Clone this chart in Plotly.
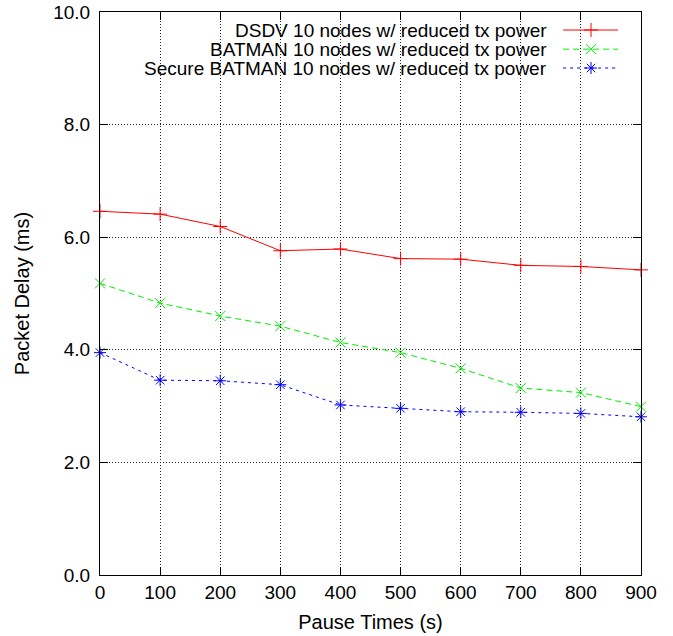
import plotly.graph_objects as go

pause_times = [0, 100, 200, 300, 400, 500, 600, 700, 800, 900]
dsdv = [6.46, 6.41, 6.19, 5.76, 5.79, 5.62, 5.61, 5.50, 5.48, 5.42]
batman = [5.18, 4.83, 4.60, 4.42, 4.13, 3.95, 3.67, 3.32, 3.24, 2.99]
secure_batman = [3.95, 3.46, 3.45, 3.38, 3.02, 2.96, 2.90, 2.89, 2.87, 2.81]
series_names = [
    "DSDV 10 nodes w/ reduced tx power",
    "BATMAN 10 nodes w/ reduced tx power",
    "Secure BATMAN 10 nodes w/ reduced tx power",
]
y_ticks = [0, 2, 4, 6, 8, 10]
x_ticks = pause_times

FONT = "Liberation Sans, Arial, Helvetica, sans-serif"
FS = 19
colors = ["#ff0000", "#00ee00", "#0000ff"]
dashes = ["solid", "6px,4px", "3px,4px"]
symbols = ["cross-thin", "x-thin", "asterisk"]
data = [dsdv, batman, secure_batman]

fig = go.Figure()
for vals, c, d, s, n in zip(data, colors, dashes, symbols, series_names):
    fig.add_trace(go.Scatter(
        x=pause_times, y=vals, mode="lines+markers", name=n,
        line=dict(color=c, width=1, dash=d),
        marker=dict(symbol=s, size=10, color=c, line=dict(color=c, width=1)),
        showlegend=False, cliponaxis=False,
    ))

# custom gnuplot-style key (text right, sample on the right)
row_y = [0.968, 0.934, 0.9005]
text_x = 0.830
samp_x0, samp_x1, samp_xm = 0.856, 0.9575, 0.9076
for i, (c, d, s, n) in enumerate(zip(colors, dashes, symbols, series_names)):
    fig.add_annotation(xref="paper", yref="paper", x=text_x, y=row_y[i],
                       text=n, showarrow=False, xanchor="right", yanchor="middle",
                       font=dict(family=FONT, size=FS, color="black"))
    fig.add_trace(go.Scatter(
        x=[samp_x0, samp_xm, samp_x1], y=[row_y[i]] * 3, xaxis="x2", yaxis="y2",
        mode="lines", line=dict(color=c, width=1, dash=d),
        showlegend=False, hoverinfo="skip", cliponaxis=False))
    fig.add_trace(go.Scatter(
        x=[samp_xm], y=[row_y[i]], xaxis="x2", yaxis="y2", mode="markers",
        marker=dict(symbol=s, size=10, color=c, line=dict(color=c, width=1)),
        showlegend=False, hoverinfo="skip", cliponaxis=False))

# opaque key background covering grid
fig.add_shape(type="rect", xref="paper", yref="paper", x0=0, x1=1, y0=0.885, y1=1,
              fillcolor="white", line=dict(width=0), layer="below")

axis_common = dict(
    showline=True, linecolor="black", linewidth=1, mirror="allticks",
    ticks="inside", ticklen=8, tickcolor="black", tickwidth=1,
    showgrid=True, gridcolor="#222222", gridwidth=1, griddash="1px,2px",
    zeroline=False, automargin=False,
    tickfont=dict(family=FONT, size=FS, color="black"),
)

fig.update_layout(
    width=673, height=636,
    margin=dict(l=100, r=32, t=12, b=61),
    paper_bgcolor="white", plot_bgcolor="white",
    font=dict(family=FONT, size=FS, color="black"),
    xaxis=dict(range=[0, 900], tickvals=x_ticks, ticktext=[str(v) for v in x_ticks],
               title=dict(text="Pause Times (s)", font=dict(family=FONT, size=20), standoff=13),
               **axis_common),
    yaxis=dict(range=[0, 10], tickvals=y_ticks, ticktext=[f"{v:.1f}" for v in y_ticks],
               ticklabelstandoff=5,
               title=dict(text="Packet Delay (ms)", font=dict(family=FONT, size=20), standoff=18),
               **axis_common),
    xaxis2=dict(range=[0, 1], overlaying="x", visible=False, fixedrange=True),
    yaxis2=dict(range=[0, 1], overlaying="y", visible=False, fixedrange=True),
)

fig.write_html("out.html", config={"displayModeBar": False},
               post_script="document.body.style.margin='0';")
